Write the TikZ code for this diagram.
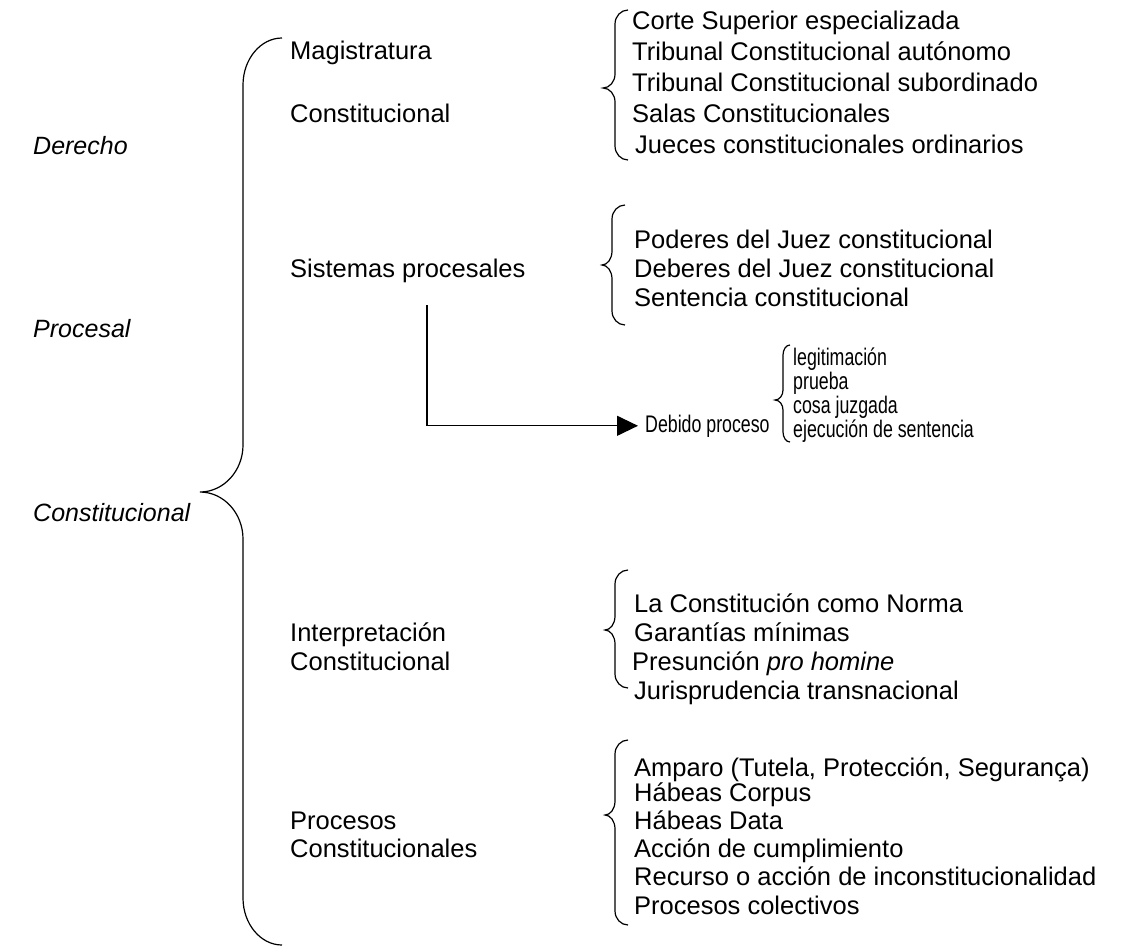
\documentclass[tikz,border=0pt]{standalone}
\usepackage{fontspec}
\setmainfont{Liberation Sans}
\newfontfamily\narrowsf{Liberation Sans}[FakeStretch=0.74]
\usetikzlibrary{arrows.meta}

\tikzset{
  entry/.style={anchor=base west, inner sep=0pt, font=\fontsize{25.5}{30}\selectfont},
  rama/.style={entry, font=\fontsize{25}{30}\selectfont\itshape},
  angosto/.style={anchor=base west, inner sep=0pt, font=\narrowsf\fontsize{24}{26}\selectfont},
  llave/.style={line width=1.2pt},
  flecha/.style={line width=1.2pt, -{Triangle[length=21pt,width=20pt]}},
}

% brace: x end, x stem, x tip, y top, y tip, y bottom, corner
\newcommand{\llave}[7]{%
  \draw[llave] (#1,#4)
    .. controls ({#1-0.55*(#1-#2)},#4) and (#2,{#4+0.45*#7}) .. (#2,{#4+#7})
    -- (#2,{#5-#7})
    .. controls (#2,{#5-0.45*#7}) and ({#3+0.55*(#2-#3)},#5) .. (#3,#5)
    .. controls ({#3+0.55*(#2-#3)},#5) and (#2,{#5+0.45*#7}) .. (#2,{#5+#7})
    -- (#2,{#6-#7})
    .. controls (#2,{#6-0.45*#7}) and ({#1-0.55*(#1-#2)},#6) .. (#1,#6);}

\begin{document}
\begin{tikzpicture}[x=1pt,y=-1pt]
  \useasboundingbox (0,0) rectangle (1131,948);

  \path
    (33,154) node[rama] (der) {Derecho}
    (33,337) node[rama] (proc) {Procesal}
    (33,521) node[rama] (const) {Constitucional};
  \llave{282}{243}{200}{38}{492}{945}{47}

  % magistratura
  \path
    (290,59) node[entry] (mag) {Magistratura}
    (290,122) node[entry] (magb) {Constitucional};
  \llave{628}{615}{603}{10}{88}{160}{14}
  \path
    (632,29) node[entry] (m1) {Corte Superior especializada}
    (632,60) node[entry] (m2) {Tribunal Constitucional autónomo}
    (632,91) node[entry] (m3) {Tribunal Constitucional subordinado}
    (632,122) node[entry] (m4) {Salas Constitucionales}
    (635,153) node[entry] (m5) {Jueces constitucionales ordinarios};

  % sistemas procesales
  \path (290,277) node[entry] (sis) {Sistemas procesales};
  \llave{625}{612}{602}{205}{265}{325}{14}
  \path
    (634,248) node[entry] (s1) {Poderes del Juez constitucional}
    (634,277) node[entry] (s2) {Deberes del Juez constitucional}
    (634,306) node[entry] (s3) {Sentencia constitucional};

  % debido proceso
  \coordinate (sisbajo) at (427,305);
  \path (645,432) node[angosto] (deb) {Debido proceso};
  \draw[flecha, shorten >=7pt] (sisbajo) |- (deb.west);
  \llave{790}{783}{775}{345}{400}{442}{10}
  \path
    (793,365) node[angosto] (d1) {legitimación}
    (793,389) node[angosto] (d2) {prueba}
    (793,413) node[angosto] (d3) {cosa juzgada}
    (793,437) node[angosto] (d4) {ejecución de sentencia};

  % interpretacion
  \path
    (290,641) node[entry] (int) {Interpretación}
    (290,670) node[entry] (intb) {Constitucional};
  \llave{628}{615}{605}{570}{630}{688}{14}
  \path
    (634,612) node[entry] (i1) {La Constitución como Norma}
    (634,641) node[entry] (i2) {Garantías mínimas}
    (632,670) node[entry] (i3) {Presunción \textit{pro homine}}
    (634,699) node[entry] (i4) {Jurisprudencia transnacional};

  % procesos
  \path
    (290,829) node[entry] (pc) {Procesos}
    (290,857) node[entry] (pcb) {Constitucionales};
  \llave{628}{615}{605}{740}{815}{925}{14}
  \path
    (634,776) node[entry] (p1) {Amparo (Tutela, Protección, Segurança)}
    (634,801) node[entry] (p2) {Hábeas Corpus}
    (634,829) node[entry] (p3) {Hábeas Data}
    (634,857) node[entry] (p4) {Acción de cumplimiento}
    (634,885) node[entry] (p5) {Recurso o acción de inconstitucionalidad}
    (634,914) node[entry] (p6) {Procesos colectivos};
\end{tikzpicture}
\end{document}
